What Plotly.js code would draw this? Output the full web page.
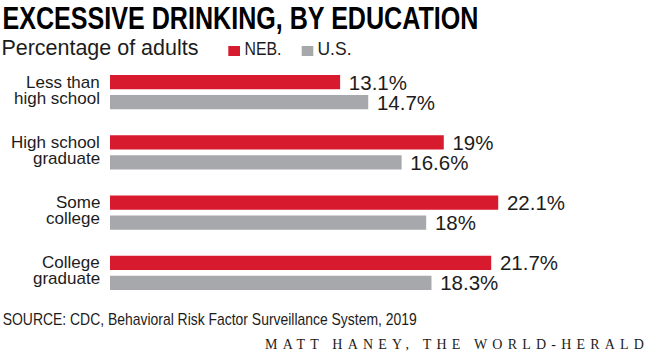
<!DOCTYPE html>
<html>
<head>
<meta charset="utf-8">
<script src="https://cdn.plot.ly/plotly-3.0.1.min.js"></script>
<style>
  html, body { margin: 0; padding: 0; background: #fff; }
  #chart { width: 656px; height: 353px; }
</style>
</head>
<body>
<div id="chart"></div>
<script>
// ---- data ----
const categories = ["Less than<br>high school", "High school<br>graduate", "Some<br>college", "College<br>graduate"];
const seriesNames = ["NEB.", "U.S."];
const nebValues = [13.1, 19, 22.1, 21.7];
const usValues = [14.7, 16.6, 18, 18.3];
const titleText = "EXCESSIVE DRINKING, BY EDUCATION";
const subtitleText = "Percentage of adults";
const sourceText = "SOURCE: CDC, Behavioral Risk Factor Surveillance System, 2019";
const creditText = "MATT HANEY, THE WORLD-HERALD";

// ---- styles ----
const RED = "#d71a2e";
const GRAY = "#a7a8ab";
const INK = "#1c1c1c";
const SANS = "Liberation Sans, Arial, sans-serif";
const SERIF = "Liberation Serif, Times New Roman, serif";

const fmt = v => "\u00A0" + v + "%";

const traces = [
  {
    type: "bar", orientation: "h", name: seriesNames[0],
    y: categories, x: nebValues,
    marker: { color: RED },
    text: nebValues.map(fmt), textposition: "outside", constraintext: "none",
    cliponaxis: false,
    textfont: { family: SANS, size: 20.5, color: INK },
    hoverinfo: "skip"
  },
  {
    type: "bar", orientation: "h", name: seriesNames[1],
    y: categories, x: usValues,
    marker: { color: GRAY },
    text: usValues.map(fmt), textposition: "outside", constraintext: "none",
    cliponaxis: false,
    textfont: { family: SANS, size: 20.5, color: INK },
    hoverinfo: "skip"
  }
];

// plot area geometry (pixels) used to place free text in paper coords
const L = 110, R = 19, T = 62, B = 50, W = 656, H = 353;
const pw = W - L - R, ph = H - T - B;
const px = x => (x - L) / pw;
const py = y => (H - B - y) / ph;

const annotations = [];
const squeeze = {}; // annotation index -> target text width (px)

// category labels, two lines each
categories.forEach(c => {
  const lines = c.split("<br>");
  const shifts = [10, -6];
  lines.forEach((ln, i) => {
    annotations.push({
      xref: "x", yref: "y", x: 0, y: c, xanchor: "right", yanchor: "middle",
      xshift: -9.5, yshift: shifts[i], showarrow: false, text: ln, borderpad: 0,
      font: { family: SANS, size: 17, color: INK }
    });
  });
});
// title
squeeze[annotations.length] = 476;
annotations.push({
  xref: "paper", yref: "paper", x: px(240), y: py(18.0), xanchor: "center", yanchor: "middle",
  showarrow: false, text: titleText,
  font: { family: SANS, size: 32, weight: 700, color: "#000" }
});
// subtitle
squeeze[annotations.length] = 197;
annotations.push({
  xref: "paper", yref: "paper", x: px(99.5), y: py(47.4), xanchor: "center", yanchor: "middle",
  showarrow: false, text: subtitleText,
  font: { family: SANS, size: 22, color: INK }
});
// legend texts
squeeze[annotations.length] = 37;
annotations.push({
  xref: "paper", yref: "paper", x: px(262.5), y: py(49.5), xanchor: "center", yanchor: "middle",
  showarrow: false, text: seriesNames[0], font: { family: SANS, size: 18, color: INK }
});
squeeze[annotations.length] = 34;
annotations.push({
  xref: "paper", yref: "paper", x: px(334), y: py(49.5), xanchor: "center", yanchor: "middle",
  showarrow: false, text: seriesNames[1], font: { family: SANS, size: 18, color: INK }
});
// source
squeeze[annotations.length] = 414;
annotations.push({
  xref: "paper", yref: "paper", x: px(209), y: py(319.8), xanchor: "center", yanchor: "middle",
  showarrow: false, text: sourceText,
  font: { family: SANS, size: 17, color: INK }
});
// credit
annotations.push({
  xref: "paper", yref: "paper", x: px(263), y: py(344.4), xanchor: "left", yanchor: "middle",
  showarrow: false, text: '<span style="letter-spacing:5.2px">' + creditText + '</span>',
  font: { family: SERIF, size: 14, color: INK }
});

// legend swatches
const shapes = [
  { type: "rect", xref: "paper", yref: "paper", x0: px(228.3), x1: px(240), y0: py(56), y1: py(46),
    fillcolor: RED, line: { width: 0 } },
  { type: "rect", xref: "paper", yref: "paper", x0: px(301.7), x1: px(313.3), y0: py(56), y1: py(46),
    fillcolor: GRAY, line: { width: 0 } }
];

const layout = {
  width: W, height: H,
  margin: { l: L, r: R, t: T, b: B, pad: 0 },
  paper_bgcolor: "#fff", plot_bgcolor: "#fff",
  barmode: "group", bargap: 0.336, bargroupgap: 0.285,
  showlegend: false,
  xaxis: { range: [0, 30], visible: false, fixedrange: true },
  yaxis: { type: "category", range: [3.5, -0.5], showticklabels: false, showgrid: false,
           zeroline: false, showline: false, ticks: "", fixedrange: true },
  annotations: annotations,
  shapes: shapes
};

Plotly.newPlot("chart", traces, layout, { staticPlot: true, displayModeBar: false }).then(gd => {
  Object.keys(squeeze).forEach(i => {
    const t = gd.querySelector('g.annotation[data-index="' + i + '"] text.annotation-text');
    if (t) {
      t.setAttribute("textLength", squeeze[i]);
      t.setAttribute("lengthAdjust", "spacingAndGlyphs");
    }
  });
});
</script>
</body>
</html>
